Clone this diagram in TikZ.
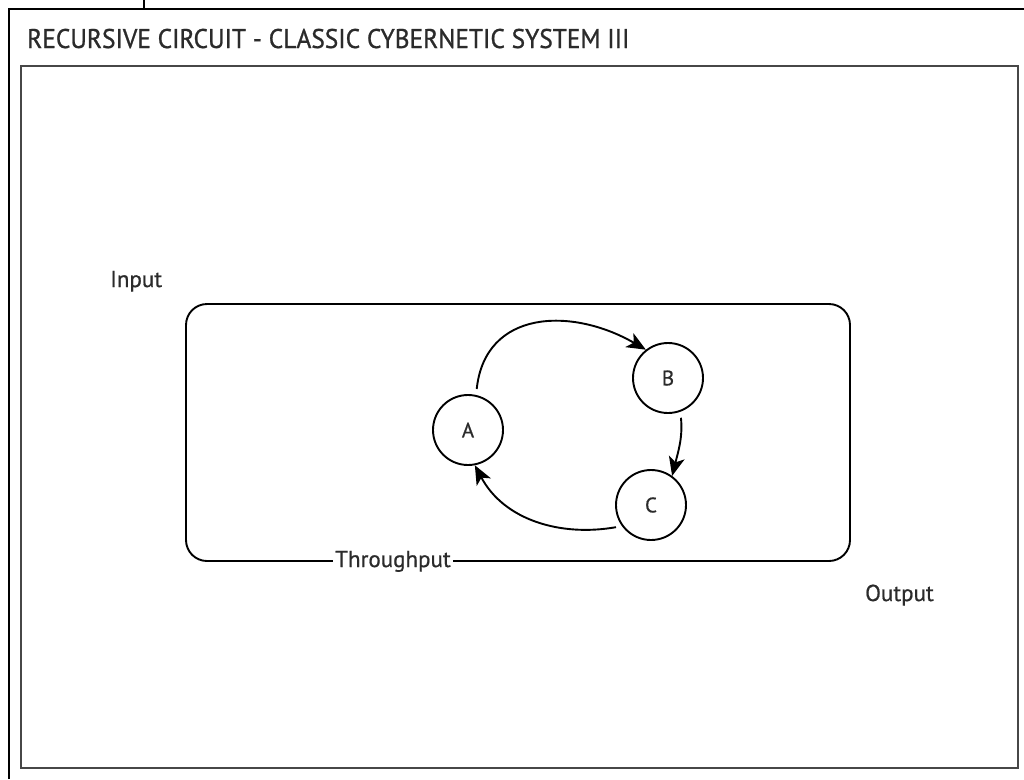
\documentclass[tikz,border=0pt]{standalone}
\usepackage{fontspec}
\setmainfont{PT Sans}[FakeBold=0.7]
\newfontfamily\titlefont{PT Sans}[FakeStretch=0.94, FakeBold=0.9]
\usetikzlibrary{arrows.meta}
\definecolor{ink}{HTML}{2B2B2B}
\tikzset{
  lbl/.style={text=ink, font=\fontsize{23}{26}\selectfont, inner sep=0pt},
  ttl/.style={text=ink, font=\titlefont\fontsize{27}{30}\selectfont, inner sep=0pt},
  circ/.style={circle, draw=black, line width=1.9pt, minimum size=70pt, inner sep=0pt, text=ink, font=\fontsize{21}{22}\selectfont},
  conn/.style={draw=black, line width=1.9pt, -{Stealth[length=19pt,width=16pt,inset=5pt]}, shorten <=6pt},
}
\begin{document}
\begin{tikzpicture}[x=1pt,y=-1pt]
\useasboundingbox[fill=white] (0,0) rectangle (1024,779);
% outer frame
\draw[black, line width=1.8pt] (9,779) -- (9,9) -- (1024,9);
\draw[black, line width=1.8pt] (144,0) -- (144,9);
% inner frame
\draw[draw=black!72, line width=2.8pt] (21,66) rectangle (1018,768);
% title
\node[ttl, anchor=base west] (title) at (27,48) {RECURSIVE CIRCUIT - CLASSIC CYBERNETIC SYSTEM III};
% system box
\draw[black, line width=1.9pt, rounded corners=21pt] (186,304) rectangle (850,561);
\node[lbl, anchor=base, fill=white, inner xsep=2pt, inner ysep=2pt] (tp) at (393,567) {Throughput};
\node[lbl, anchor=base west] (in) at (110,287) {Input};
\node[lbl, anchor=base west] (out) at (865,601) {Output};
% circuit
\node[circ] (A) at (468,430) {A};
\node[circ] (B) at (668,378) {B};
\node[circ] (C) at (651,505) {C};
\draw[conn] (A.77) to[out=84, in=150, looseness=1.25] (B.128);
\draw[conn] (B.-70) to[out=-84, in=76] (C.54);
\draw[conn] (C.216) to[out=190, in=-62] (A.-79);
\end{tikzpicture}
\end{document}
